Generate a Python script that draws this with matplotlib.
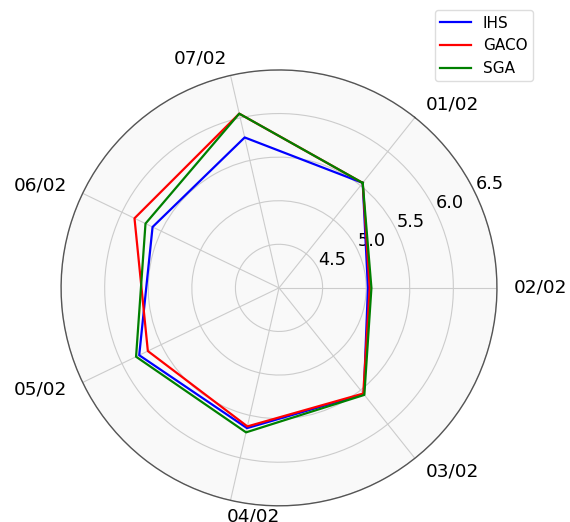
import numpy as np
import matplotlib
matplotlib.use("Agg")
import matplotlib.pyplot as plt

categories = ["01/02", "02/02", "03/02", "04/02", "05/02", "06/02", "07/02"]
ihs = [5.54, 5.02, 5.56, 5.65, 5.78, 5.61, 5.77]
gaco = [5.54, 5.04, 5.55, 5.63, 5.67, 5.84, 6.05]
sga = [5.54, 5.06, 5.57, 5.70, 5.82, 5.70, 6.05]
series_names = ["IHS", "GACO", "SGA"]
series_colors = ["blue", "red", "green"]
r_ticks = [4.5, 5.0, 5.5, 6.0, 6.5]

n = len(categories)
angles = np.linspace(0, 2 * np.pi, n, endpoint=False)
angles_closed = np.concatenate([angles, angles[:1]])

fig = plt.figure(figsize=(5.70, 5.22), dpi=100)
ax = fig.add_axes([0.107, 0.031, 0.765, 0.835], projection="polar")
ax.set_facecolor("#f9f9f9")
ax.set_theta_offset(2 * np.pi / n)
ax.set_theta_direction(-1)

for vals, name, col in zip([ihs, gaco, sga], series_names, series_colors):
    v = np.concatenate([vals, vals[:1]])
    ax.plot(angles_closed, v, color=col, linewidth=1.6, label=name)

rmin, rmax = 4.0, 6.5
ax.set_ylim(rmin, rmax)
ax.set_yticks(r_ticks)
ax.set_yticklabels([f"{t:.1f}" for t in r_ticks], fontsize=12.8)
ax.set_rlabel_position(25.7)
ax.set_xticks(angles)
ax.set_xticklabels([])
ax.grid(color="#cccccc", linewidth=0.8)
ax.spines["polar"].set_color("#555555")
ax.spines["polar"].set_linewidth(1.0)

# category labels just outside the circle
r_lab = rmax + (rmax - rmin) * 17.0 / 217.0
for ang, lab in zip(angles, categories):
    ha = "left" if ang < np.pi - 1e-9 else "right"
    ax.text(ang, r_lab, lab, ha=ha, va="center", fontsize=13.3, clip_on=False)

fig.legend(loc="upper right", bbox_to_anchor=(0.948, 0.995), fontsize=11,
           labelspacing=0.5, borderpad=0.35, handlelength=2.0,
           framealpha=1.0, edgecolor="#dddddd")

fig.savefig("out.png", dpi=100)
